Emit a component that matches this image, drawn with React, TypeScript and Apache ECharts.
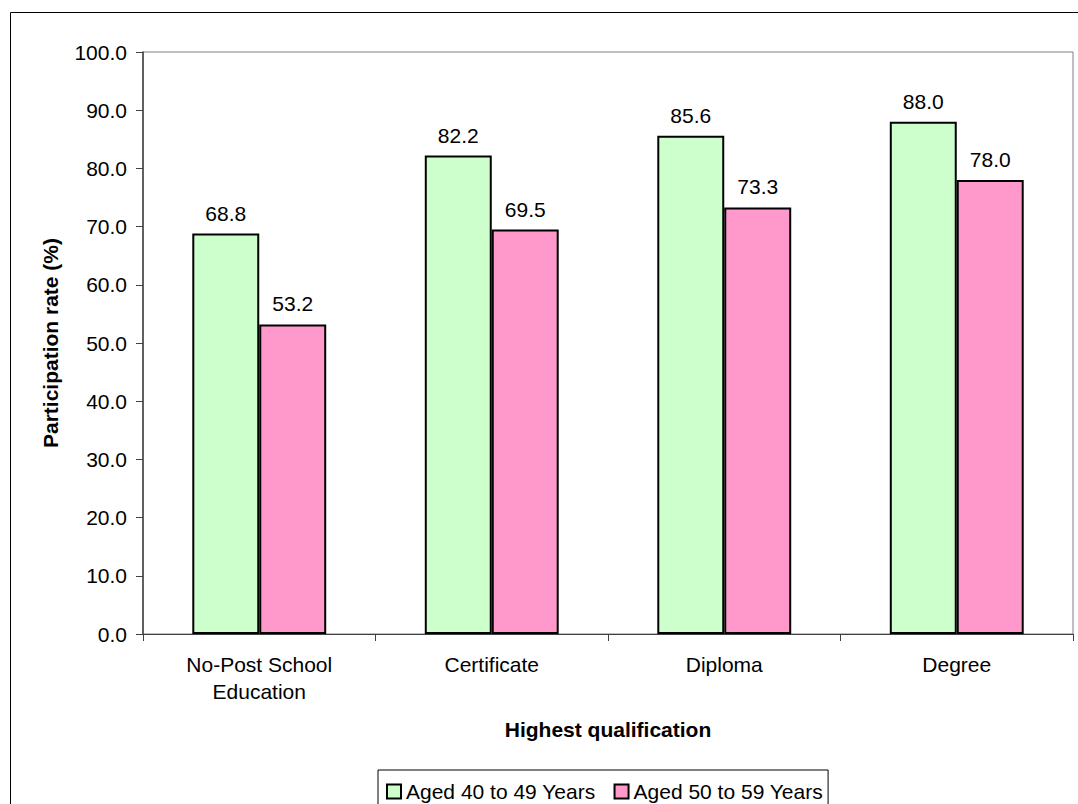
import React, { useEffect, useRef } from "react";
import * as echarts from "echarts";

// Labour force participation by highest qualification and age group
const categories = ["No-Post School\nEducation", "Certificate", "Diploma", "Degree"];
const seriesNames = ["Aged 40 to 49 Years", "Aged 50 to 59 Years"];
const aged40to49 = [68.8, 82.2, 85.6, 88.0];
const aged50to59 = [53.2, 69.5, 73.3, 78.0];
const seriesColors = ["#CCFFCC", "#FF99CC"];

const FONT = "'Liberation Sans', Arial, sans-serif";
const FS = 21;

export default function App() {
  const ref = useRef<HTMLDivElement>(null);

  useEffect(() => {
    if (!ref.current) return;
    const chart = echarts.init(ref.current, undefined, { renderer: "svg" });

    const makeSeries = (name: string, data: number[], color: string) => ({
      name,
      type: "bar",
      data,
      barGap: "0%",
      barCategoryGap: "42.4%",
      itemStyle: { color, borderColor: "#000", borderWidth: 2 },
      label: {
        show: true,
        position: "top",
        distance: 10,
        formatter: (p: any) => Number(p.value).toFixed(1),
        color: "#000",
        fontFamily: FONT,
        fontSize: FS,
      },
    });

    chart.setOption({
      animation: false,
      backgroundColor: "#fff",
      textStyle: { fontFamily: FONT },
      graphic: [
        {
          type: "rect",
          shape: { x: 10.5, y: 12.5, width: 1200, height: 1000 },
          style: { fill: "none", stroke: "#000", lineWidth: 1 },
          silent: true,
          z: -10,
        },
      ],
      grid: {
        left: 143,
        right: 5,
        top: 52,
        bottom: 170,
        show: true,
        borderColor: "#808080",
        borderWidth: 1,
        backgroundColor: "transparent",
      },
      legend: {
        data: seriesNames,
        left: 378,
        top: 770,
        orient: "horizontal",
        padding: [11, 5, 20, 8],
        itemWidth: 14,
        itemHeight: 14,
        itemGap: 18,
        borderColor: "#000",
        borderWidth: 1,
        icon: "rect",
        itemStyle: { borderColor: "#000", borderWidth: 2 },
        textStyle: { fontFamily: FONT, fontSize: FS, color: "#000" },
      },
      xAxis: {
        type: "category",
        data: categories,
        name: "Highest qualification",
        nameLocation: "middle",
        nameGap: 85,
        nameTextStyle: { fontFamily: FONT, fontSize: FS, fontWeight: "bold", color: "#000" },
        axisLine: { show: true, lineStyle: { color: "#404040", width: 1 } },
        axisTick: { show: true, alignWithLabel: false, length: 7, lineStyle: { color: "#404040" } },
        axisLabel: {
          color: "#000",
          fontFamily: FONT,
          fontSize: FS,
          lineHeight: 27,
          margin: 17,
          interval: 0,
        },
      },
      yAxis: {
        type: "value",
        min: 0,
        max: 100,
        interval: 10,
        name: "Participation rate (%)",
        nameLocation: "middle",
        nameGap: 82,
        nameRotate: 90,
        nameTextStyle: { fontFamily: FONT, fontSize: FS, fontWeight: "bold", color: "#000" },
        axisLine: { show: true, lineStyle: { color: "#404040", width: 1.5 } },
        axisTick: { show: true, inside: false, length: 7, lineStyle: { color: "#404040" } },
        splitLine: { show: false },
        axisLabel: {
          color: "#000",
          fontFamily: FONT,
          fontSize: FS,
          margin: 16,
          formatter: (v: number) => v.toFixed(1),
        },
      },
      series: [
        makeSeries(seriesNames[0], aged40to49, seriesColors[0]),
        makeSeries(seriesNames[1], aged50to59, seriesColors[1]),
      ],
    });

    return () => chart.dispose();
  }, []);

  return (
    <div
      ref={ref}
      style={{ position: "fixed", left: 0, top: 0, width: 1078, height: 804, background: "#fff" }}
    />
  );
}
